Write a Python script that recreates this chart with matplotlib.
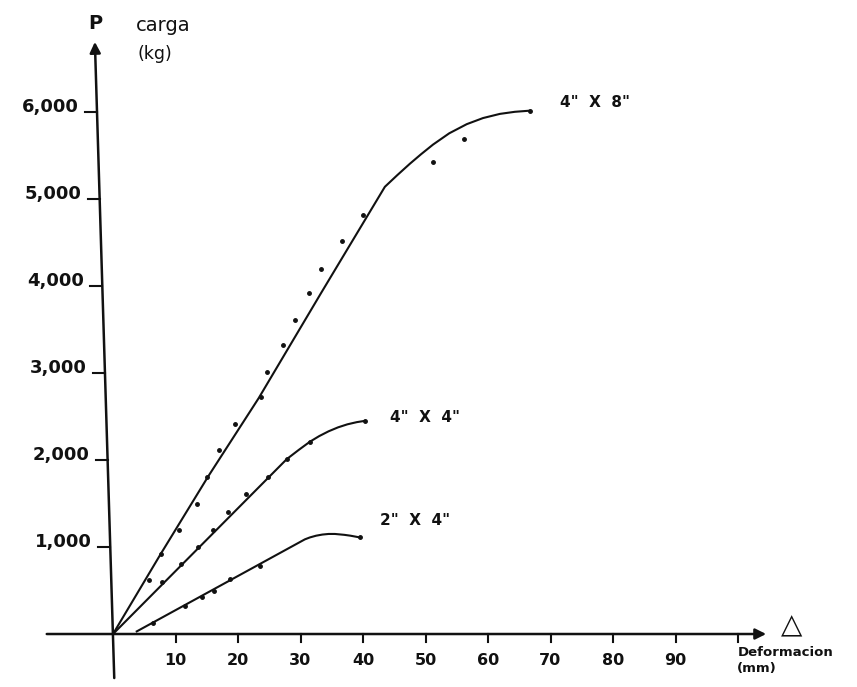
import matplotlib.pyplot as plt

# Carga vs deformacion para tres secciones de madera
# 4" x 8"
x8_line = [0, 7.6, 15.2, 23.3, 33.3, 43.5, 45.5, 47.5, 49.3, 51.2, 53.8,
           56.6, 59.2, 61.9, 64.3, 66.7]
p8_line = [0, 916, 1808, 2710, 3920, 5140, 5275, 5405, 5515, 5625, 5755,
           5860, 5930, 5978, 6002, 6015]
x8_pts = [5.8, 7.6, 10.5, 13.5, 15.0, 17.0, 19.5, 23.6, 24.7, 27.2, 29.1,
          31.3, 33.2, 36.7, 40.0, 51.2, 56.1, 66.7]
p8_pts = [620, 920, 1200, 1500, 1810, 2110, 2410, 2720, 3010, 3320, 3610,
          3920, 4200, 4520, 4820, 5430, 5690, 6015]

# 4" x 4"
x44_line = [0, 27.8, 29.7, 31.5, 33.0, 34.5, 36.0, 37.5, 39.0, 40.3]
p44_line = [0, 2010, 2115, 2210, 2275, 2330, 2375, 2410, 2435, 2450]
x44_pts = [7.9, 10.8, 13.6, 16.0, 18.4, 21.3, 24.8, 27.8, 31.5, 40.3]
p44_pts = [600, 810, 1000, 1195, 1400, 1605, 1800, 2010, 2210, 2450]

# 2" x 4"
x24_line = [3.8, 30.7, 31.5, 32.5, 33.5, 34.5, 35.5, 37.0, 38.0, 39.5]
p24_line = [30, 1088, 1110, 1130, 1143, 1150, 1150, 1140, 1130, 1110]
x24_pts = [6.4, 11.5, 14.2, 16.2, 18.7, 23.5, 39.5]
p24_pts = [130, 320, 420, 500, 630, 780, 1110]

xticks = [10, 20, 30, 40, 50, 60, 70, 80, 90]
yticks = [1000, 2000, 3000, 4000, 5000, 6000]
ylabels = ["1,000", "2,000", "3,000", "4,000", "5,000", "6,000"]

fig = plt.figure(figsize=(8.57, 6.87), dpi=100)
ax = fig.add_axes([0, 0, 1, 1])
ax.set_xlim(-18.08, 119.04)
ax.set_ylim(-609, 7287)
ax.axis('off')

ink = '#111111'
font = dict(family='DejaVu Sans', weight='bold', color=ink)

# curves and readings
ax.plot(x8_line, p8_line, color=ink, lw=1.5)
ax.plot(x44_line, p44_line, color=ink, lw=1.5)
ax.plot(x24_line, p24_line, color=ink, lw=1.5)
ax.plot(x8_pts, p8_pts, 'o', color=ink, ms=2.5)
ax.plot(x44_pts, p44_pts, 'o', color=ink, ms=2.5)
ax.plot(x24_pts, p24_pts, 'o', color=ink, ms=2.5)

ax.text(71.5, 6110, '4"  X  8"', fontsize=11, va='center', **font)
ax.text(44.3, 2490, '4"  X  4"', fontsize=11, va='center', **font)
ax.text(42.7, 1300, '2"  X  4"', fontsize=11, va='center', **font)

# horizontal axis with arrow
ax.annotate('', xy=(104.5, 0), xytext=(-10.6, 0),
            arrowprops=dict(arrowstyle='-|>', color=ink, lw=1.8,
                            mutation_scale=16, shrinkA=0, shrinkB=0))
for x in xticks + [100]:
    ax.plot([x, x], [0, -90], color=ink, lw=1.5)
for x in xticks:
    ax.text(x, -300, str(x), fontsize=11.5, ha='center', va='center', **font)
ax.text(108.5, 100, '\u25b3', fontsize=20, ha='center', va='center', color=ink)
ax.text(100, -207, 'Deformacion', fontsize=9.5, ha='left', va='center', **font)
ax.text(99.8, -395, '(mm)', fontsize=9.5, ha='left', va='center', **font)

# vertical axis, drawn slightly leaning
y_bot, y_top = -506, 6805
x_bot, x_top = 0.2, -2.9

def axis_x(p):
    return x_bot + (x_top - x_bot) * (p - y_bot) / (y_top - y_bot)

ax.annotate('', xy=(x_top, y_top), xytext=(x_bot, y_bot),
            arrowprops=dict(arrowstyle='-|>', color=ink, lw=1.8,
                            mutation_scale=16, shrinkA=0, shrinkB=0))
for p, lab in zip(yticks, ylabels):
    xa = axis_x(p)
    ax.plot([xa - 1.9, xa], [p, p], color=ink, lw=1.5)
    ax.text(xa - 2.9, p, lab, fontsize=13, ha='right', va='baseline', **font)

ax.text(-2.9, 7020, 'P', fontsize=14, ha='center', va='center', **font)
ax.text(8.0, 6990, 'carga', fontsize=14, ha='center', va='center', color=ink)
ax.text(6.7, 6670, '(kg)', fontsize=12.5, ha='center', va='center', color=ink)

plt.savefig('out.png', dpi=100)
